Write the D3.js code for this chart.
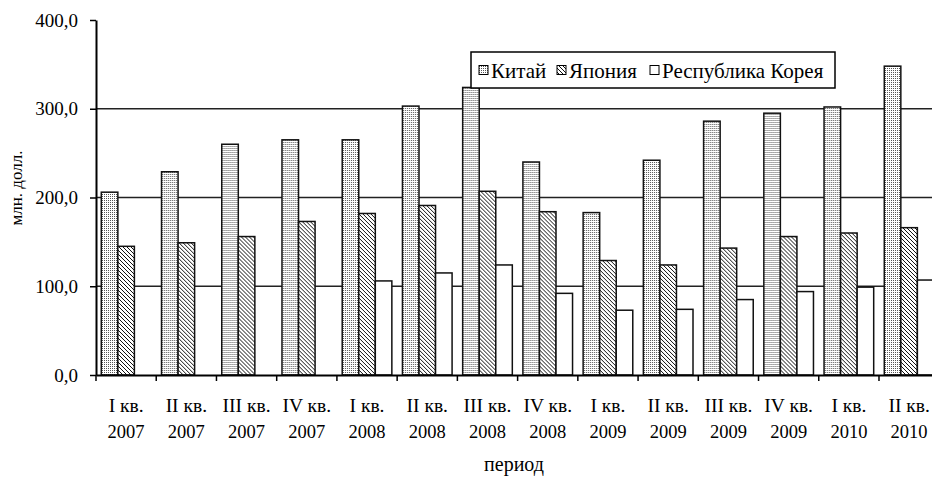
<!DOCTYPE html>
<html>
<head>
<meta charset="utf-8">
<script src="https://cdn.jsdelivr.net/npm/d3@7"></script>
<style>
  body { margin: 0; background: #fff; }
  svg { display: block; }
  .bar { stroke: #111; stroke-width: 1.5; }
  .grid line { stroke: #222; stroke-width: 1.5; }
</style>
</head>
<body>
<svg id="chart"></svg>
<script>
const quarterLabels = ["I кв.", "II кв.", "III кв.", "IV кв.", "I кв.", "II кв.", "III кв.",
  "IV кв.", "I кв.", "II кв.", "III кв.", "IV кв.", "I кв.", "II кв."];
const yearLabels = ["2007", "2007", "2007", "2007", "2008", "2008", "2008",
  "2008", "2009", "2009", "2009", "2009", "2010", "2010"];
const seriesNames = ["Китай", "Япония", "Республика Корея"];
const china = [206, 229, 260, 265, 265, 303, 324, 240, 183, 242, 286, 295, 302, 348];
const japan = [145, 149, 156, 173, 182, 191, 207, 184, 129, 124, 143, 156, 160, 166];
const korea = [null, null, null, null, 106, 115, 124, 92, 73, 74, 85, 94, 99, 107];
const yTicks = [0, 100, 200, 300, 400];

const FONT = "Liberation Serif";
const W = 932, H = 477;
const margin = { top: 20, left: 96, bottom: 102 };
const plotBottom = H - margin.bottom;
const plotRight = margin.left + 14 * 60.23;

const svg = d3.select("#chart").attr("width", W).attr("height", H)
  .attr("font-family", FONT);

// patterns
const defs = svg.append("defs");
const dots = defs.append("pattern").attr("id", "dots")
  .attr("patternUnits", "userSpaceOnUse").attr("width", 2).attr("height", 2);
dots.append("rect").attr("width", 2).attr("height", 2).attr("fill", "#fff");
dots.append("rect").attr("width", 1).attr("height", 1).attr("fill", "#555");

const hatch = defs.append("pattern").attr("id", "hatch")
  .attr("patternUnits", "userSpaceOnUse").attr("width", 4).attr("height", 4);
hatch.append("rect").attr("width", 4).attr("height", 4).attr("fill", "#fff");
hatch.append("path").attr("d", "M-1,-1L5,5M3,-1L5,1M-1,3L1,5")
  .attr("stroke", "#111").attr("stroke-width", 1);

const fills = ["url(#dots)", "url(#hatch)", "#fff"];
const series = [china, japan, korea];

const idx = d3.range(quarterLabels.length);
const x0 = d3.scaleBand().domain(idx).range([margin.left, plotRight]);
const x1 = d3.scaleBand().domain([0, 1, 2]).range([0, x0.bandwidth()])
  .paddingInner(0).paddingOuter(0.32);
const y = d3.scaleLinear().domain([0, 400]).range([plotBottom, margin.top]);

// gridlines
svg.append("g").attr("class", "grid")
  .selectAll("line")
  .data(yTicks.filter(d => d > 0 && d < 400))
  .join("line")
  .attr("x1", margin.left).attr("x2", plotRight)
  .attr("y1", d => y(d)).attr("y2", d => y(d));

// bars
const groups = svg.append("g").selectAll("g")
  .data(idx)
  .join("g")
  .attr("transform", i => "translate(" + x0(i) + ",0)");

groups.selectAll("rect")
  .data(i => series.map((s, k) => ({ k: k, v: s[i] })).filter(d => d.v != null))
  .join("rect")
  .attr("class", "bar")
  .attr("x", d => x1(d.k))
  .attr("width", x1.bandwidth())
  .attr("y", d => y(d.v))
  .attr("height", d => plotBottom - y(d.v))
  .attr("fill", d => fills[d.k]);

// y axis
const fmt = d => d3.format(".1f")(d).replace(".", ",");
const yAxis = svg.append("g")
  .attr("transform", "translate(" + margin.left + ",0)")
  .call(d3.axisLeft(y).tickValues(yTicks).tickFormat(fmt).tickSizeInner(6).tickSizeOuter(0).tickPadding(12))
  .attr("font-family", FONT);
yAxis.select(".domain").attr("stroke", "#000").attr("stroke-width", 2);
yAxis.selectAll(".tick line").attr("stroke", "#000").attr("stroke-width", 1.5).attr("x2", -6);
yAxis.selectAll(".tick text").attr("font-size", 19).attr("font-family", FONT).attr("fill", "#000");

// x axis
const xAxis = svg.append("g")
  .attr("transform", "translate(0," + plotBottom + ")")
  .call(d3.axisBottom(x0).tickSizeOuter(0).tickFormat(""));
xAxis.select(".domain").attr("stroke", "#000").attr("stroke-width", 2);
xAxis.selectAll(".tick line")
  .attr("transform", "translate(" + (-x0.bandwidth() / 2) + ",0)")
  .attr("stroke", "#000").attr("stroke-width", 1.5).attr("y2", 6);
xAxis.selectAll(".tick text").remove();

const labels = svg.append("g").attr("text-anchor", "middle").attr("font-family", FONT);
labels.selectAll("text.q")
  .data(idx)
  .join("text")
  .attr("class", "q")
  .attr("font-size", 19.5)
  .attr("x", i => x0(i) + x0.bandwidth() / 2)
  .attr("y", 412)
  .text(i => quarterLabels[i]);
labels.selectAll("text.yr")
  .data(idx)
  .join("text")
  .attr("class", "yr")
  .attr("font-size", 18.5)
  .attr("x", i => x0(i) + x0.bandwidth() / 2)
  .attr("y", 438)
  .text(i => yearLabels[i]);

// axis titles
svg.append("text")
  .attr("x", 514).attr("y", 471)
  .attr("text-anchor", "middle").attr("font-size", 20).attr("font-family", FONT)
  .text("период");
svg.append("text")
  .attr("transform", "translate(22,188) rotate(-90)")
  .attr("text-anchor", "middle").attr("font-size", 17).attr("font-family", FONT)
  .text("млн. долл.");

// legend
const legend = svg.append("g").attr("font-family", FONT);
legend.append("rect")
  .attr("x", 471).attr("y", 52).attr("width", 364).attr("height", 36)
  .attr("fill", "#fff").attr("stroke", "#000").attr("stroke-width", 1.5);
const legendX = [479, 557, 650];
const item = legend.selectAll("g.item")
  .data(seriesNames)
  .join("g")
  .attr("class", "item")
  .attr("transform", (d, i) => "translate(" + legendX[i] + ",0)");
item.append("rect")
  .attr("x", 0).attr("y", 65.5).attr("width", 9).attr("height", 9)
  .attr("fill", (d, i) => fills[i]).attr("stroke", "#000").attr("stroke-width", 1);
item.append("text")
  .attr("x", 12).attr("y", 77.5)
  .attr("font-size", 21)
  .text(d => d);
</script>
</body>
</html>
